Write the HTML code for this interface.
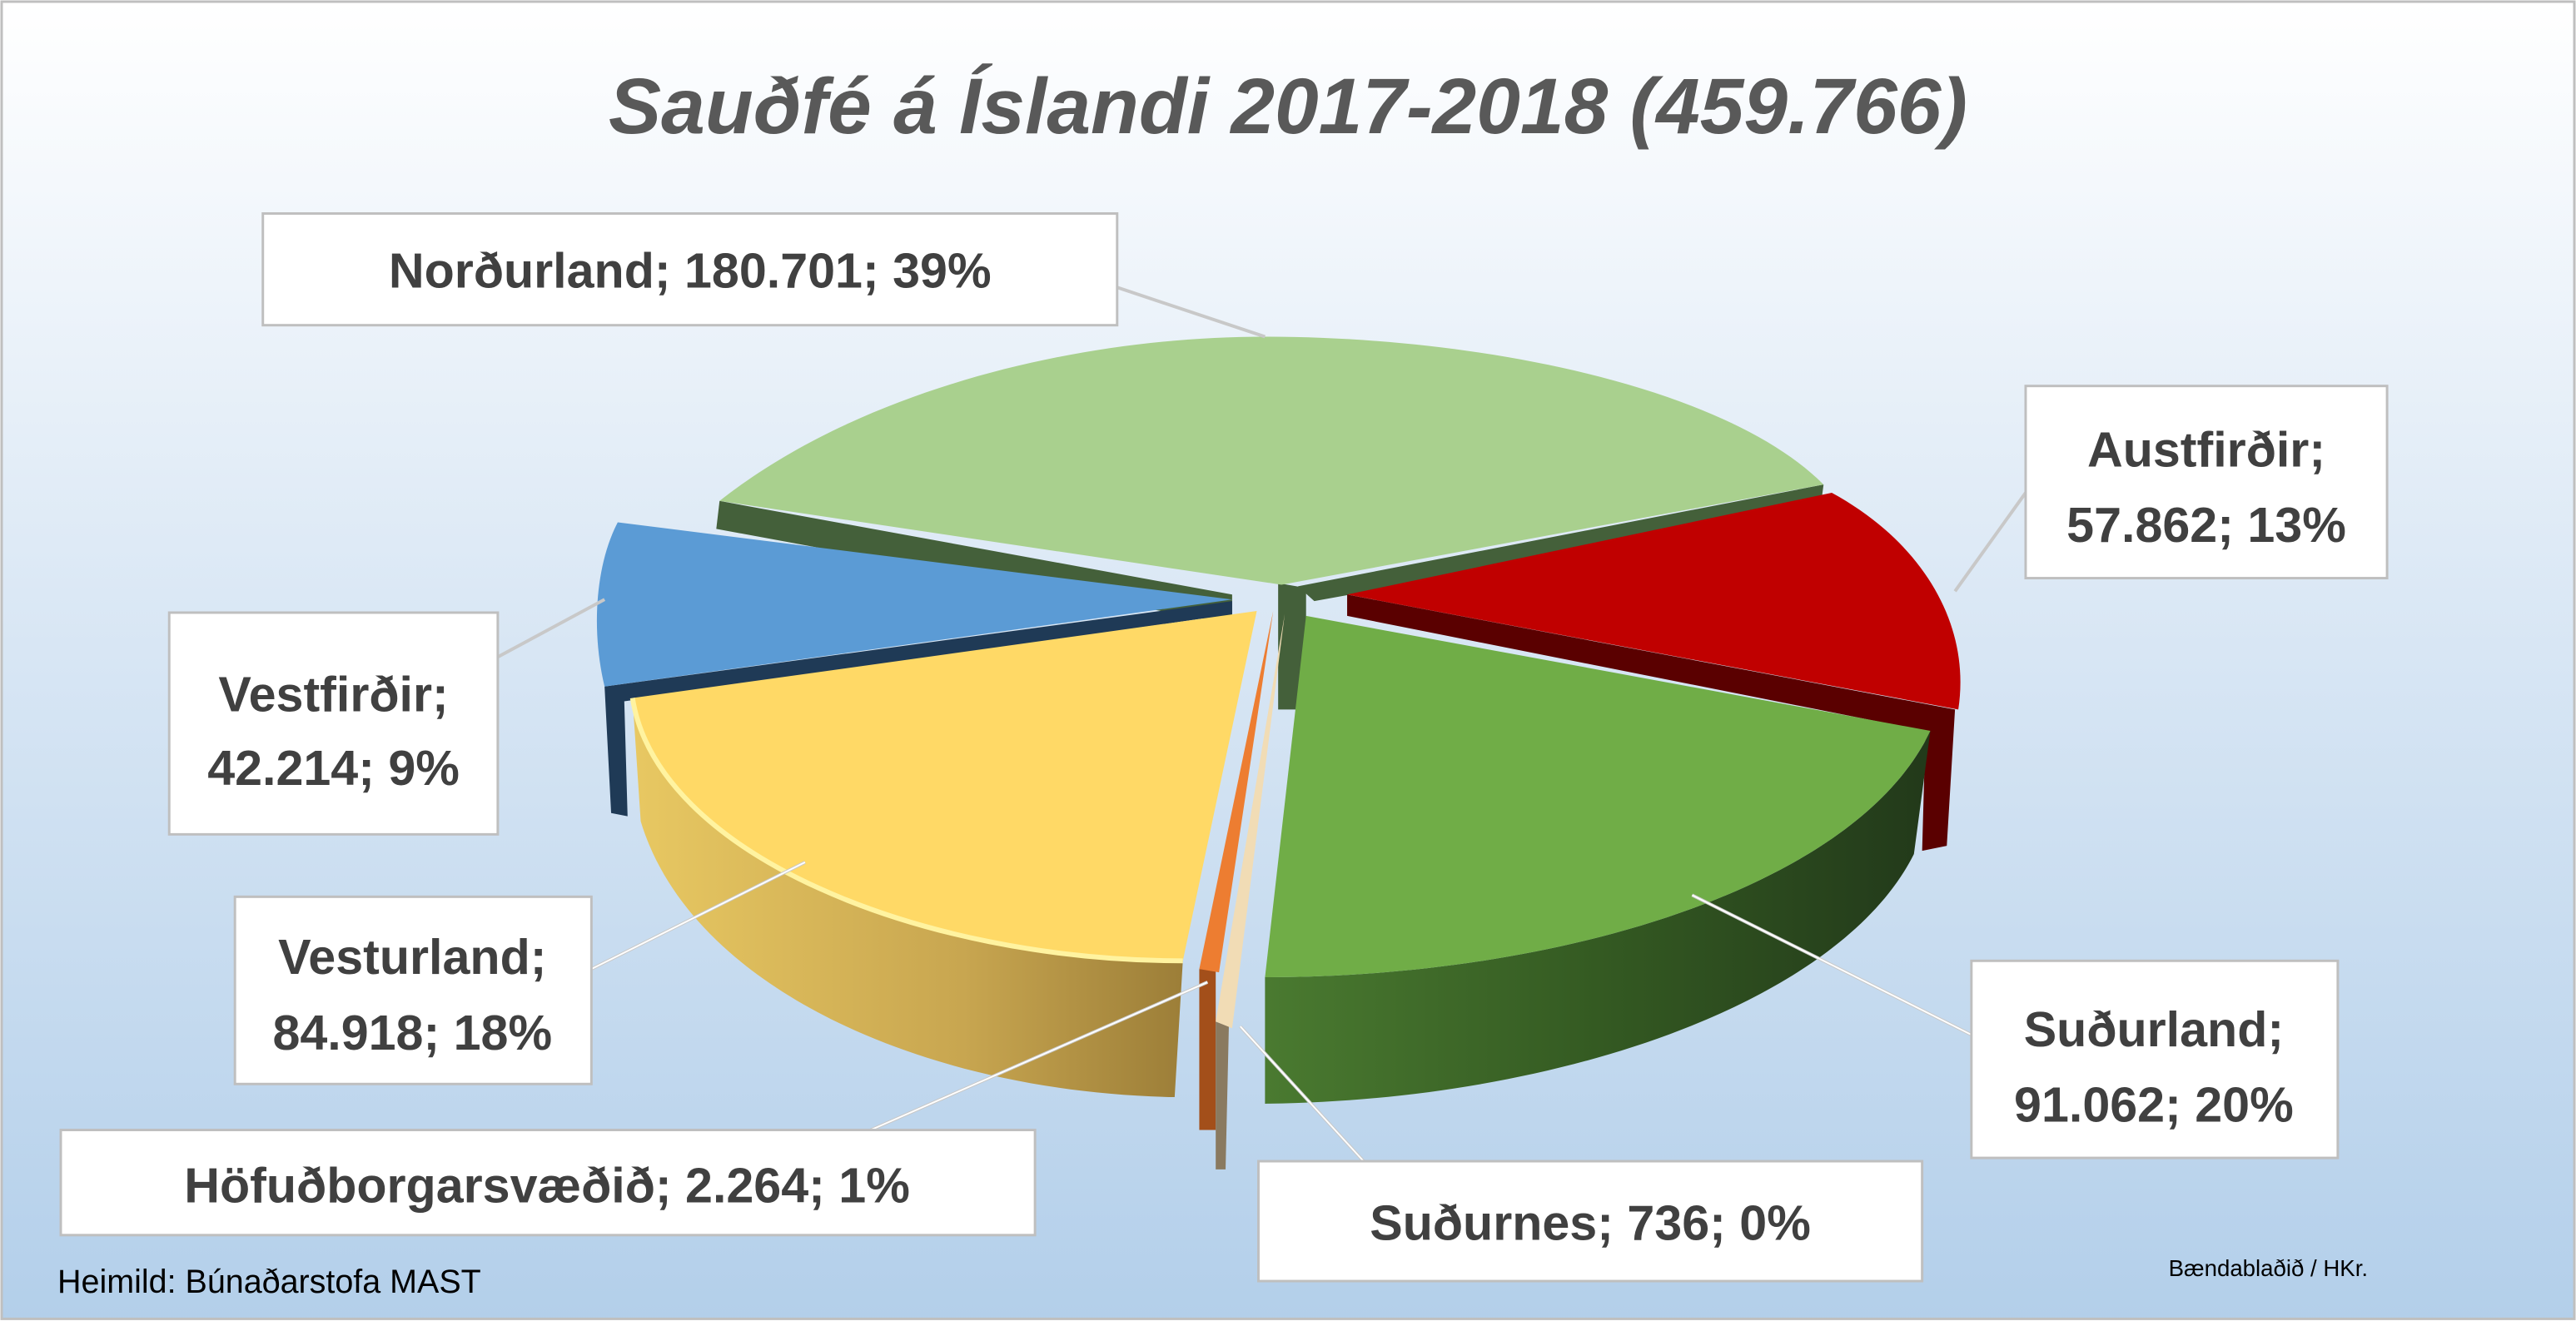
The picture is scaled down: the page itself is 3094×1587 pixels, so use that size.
<!DOCTYPE html>
<html><head><meta charset="utf-8"><style>
html,body{margin:0;padding:0;width:3094px;height:1587px;overflow:hidden;background:#fff}
svg{display:block}
text{font-family:"Liberation Sans",sans-serif;}
</style></head><body>
<svg width="3094" height="1587" viewBox="0 0 1568 804.3" preserveAspectRatio="none">
<defs>
<linearGradient id="bg" x1="0" y1="0" x2="0" y2="1">
<stop offset="0" stop-color="#ffffff"/><stop offset="0.45" stop-color="#dbe8f5"/><stop offset="1" stop-color="#b3cfea"/></linearGradient>
<linearGradient id="ys" x1="0" y1="0" x2="1" y2="0">
<stop offset="0" stop-color="#e8c862"/><stop offset="0.6" stop-color="#c8a650"/><stop offset="1" stop-color="#9c7e38"/></linearGradient>
<linearGradient id="gs" x1="0" y1="0" x2="1" y2="0">
<stop offset="0" stop-color="#4a7a30"/><stop offset="0.5" stop-color="#345a22"/><stop offset="1" stop-color="#22391a"/></linearGradient>
</defs>
<rect x="1" y="1" width="1566" height="802" fill="url(#bg)" stroke="#bfbfbf" stroke-width="1.5"/>
<text x="784" y="81" text-anchor="middle" font-size="48" font-weight="bold" font-style="italic" fill="#595959">Sauðfé á Íslandi 2017-2018 (459.766)</text>

<!-- Norðurland -->
<path d="M438,305 L750,362 L750,380 L436,322 Z" fill="#44603a"/>
<path d="M778,355 L795,358 L795,432 L778,432 Z" fill="#44603a"/>
<path d="M1110,295 L1108,310 L800,366 L790,357 Z" fill="#44603a"/>
<path d="M780,356 L438,305 C520,240 650,205 770,205 C900,205 1050,235 1110,295 Z" fill="#a9d08e"/>

<!-- Vestfirðir -->
<path d="M368,418 L750,366 L750,374 L380,427 L382,497 L372,495 Z" fill="#1f3a56"/>
<path d="M750,365 L376,318 C362,345 360,385 368,418 Z" fill="#5b9bd5"/>

<!-- Austfirðir -->
<path d="M820,362 L1190,432 L1185,515 L1170,518 L1172,445 L820,375 Z" fill="#5a0000"/>
<path d="M820,362 L1115,300 C1170,330 1200,380 1192,432 Z" fill="#c00000"/>

<!-- Vesturland -->
<path d="M385,425 C400,520 560,585 720,585 L715,668 C560,665 420,600 390,500 Z" fill="url(#ys)"/>
<path d="M765,372 L385,425 C400,520 560,585 720,585 Z" fill="#ffd966"/>
<path d="M385,425 C400,520 560,585 720,585" fill="none" stroke="#fff3a0" stroke-width="3"/>

<!-- Suðurland -->
<path d="M1175,445 L1165,520 C1120,610 950,670 770,672 L770,595 C950,595 1130,540 1175,445 Z" fill="url(#gs)"/>
<path d="M795,375 L1175,445 C1130,540 950,595 770,595 Z" fill="#70ad47"/>

<!-- Höfuðborgarsvæðið -->
<path d="M740,590 L730,590 L730,688 L740,688 Z" fill="#a34f1a"/>
<path d="M775,372 L742,592 L730,590 Z" fill="#ed7d31"/>
<!-- Suðurnes -->
<path d="M748,625 L740,622 L740,712 L746,712 Z" fill="#8a7a60"/>
<path d="M782,374 L750,626 L740,622 Z" fill="#f1dcb5"/>

<!-- leader lines -->
<g stroke="#c8c8c8" stroke-width="2" fill="none">
<path d="M680,175 L770,205"/>
<path d="M1233,300 L1190,360"/>
<path d="M303,400 L368,365"/>
<path d="M360,590 L490,525"/>
<path d="M1200,630 L1030,545"/>
<path d="M530,688 L735,598"/>
<path d="M830,707 L755,625"/>
</g>
<g stroke="#ffffff" stroke-width="1" fill="none">
<path d="M360,590 L490,525"/><path d="M1200,630 L1030,545"/><path d="M530,688 L735,598"/><path d="M830,707 L755,625"/>
</g>

<!-- label boxes -->
<g fill="#ffffff" stroke="#bfbfbf" stroke-width="1.5">
<rect x="160" y="130" width="520" height="68"/>
<rect x="1233" y="235" width="220" height="117"/>
<rect x="103" y="373" width="200" height="135"/>
<rect x="143" y="546" width="217" height="114"/>
<rect x="1200" y="585" width="223" height="120"/>
<rect x="37" y="688" width="593" height="64"/>
<rect x="766" y="707" width="404" height="73"/>
</g>
<g font-size="30" font-weight="bold" fill="#404040" text-anchor="middle">
<text x="420" y="175">Norðurland; 180.701; 39%</text>
<text x="1343" y="284">Austfirðir;</text>
<text x="1343" y="330">57.862; 13%</text>
<text x="203" y="433">Vestfirðir;</text>
<text x="203" y="478">42.214; 9%</text>
<text x="251" y="593">Vesturland;</text>
<text x="251" y="639">84.918; 18%</text>
<text x="1311" y="637">Suðurland;</text>
<text x="1311" y="683">91.062; 20%</text>
<text x="333" y="732">Höfuðborgarsvæðið; 2.264; 1%</text>
<text x="968" y="755">Suðurnes; 736; 0%</text>
</g>
<text x="35" y="787" font-size="20" fill="#000">Heimild: Búnaðarstofa MAST</text>
<text x="1320" y="777" font-size="14" fill="#000">Bændablaðið / HKr.</text>
</svg>
</body></html>
